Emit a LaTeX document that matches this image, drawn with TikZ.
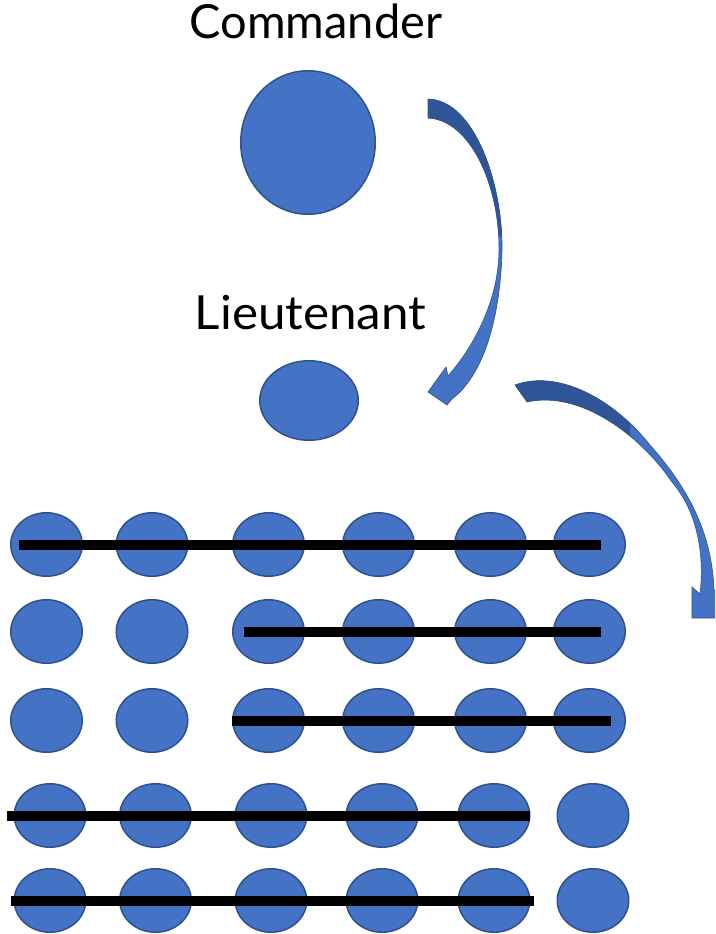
\documentclass[tikz,border=0pt]{standalone}
\usepackage{fontspec}
\setmainfont{Lato}
\usetikzlibrary{shapes.geometric}

\definecolor{soldier}{HTML}{4472C4}
\definecolor{rim}{HTML}{2F528F}
\definecolor{backside}{HTML}{2F5597}

% outlines of the two curved orders
\newcommand{\orderdown}{(428,99) .. controls (475,100) and (503,185) .. (502,250)
  .. controls (501,300) and (490,370) .. (452,399)
  -- (447,405) -- (428,392) -- (446,367) -- (448,376)
  .. controls (475,345) and (498,300) .. (499,252)
  .. controls (500,185) and (470,120) .. (428,118) -- cycle}
\newcommand{\orderout}{(515,385) .. controls (555,370) and (610,395) .. (650,445)
  .. controls (690,490) and (712,535) .. (714,590)
  -- (725,590) -- (725,618) -- (692,618) -- (692,587) -- (700,594)
  .. controls (704,560) and (700,515) .. (672,482)
  .. controls (640,435) and (580,390) .. (527,402) -- cycle}

\begin{document}
\begin{tikzpicture}[x=1pt, y=-1pt,
    man/.style = {draw=rim, fill=soldier, line width=1.5pt, ellipse, inner sep=0pt,
      minimum width=71.5pt, minimum height=63.5pt},
    lbl/.style = {font=\fontsize{47}{54}\selectfont, inner sep=0pt, anchor=base},
    bar/.style = {line width=10pt, black}]
    \useasboundingbox (0,0) rectangle (715,934);
    \clip (0,0) rectangle (715,934);

    \node[lbl] (cmdtxt) at (316,39) {Commander};
    \node[man, minimum width=134.5pt, minimum height=143.5pt] (cmd) at (308,142.5) {};
    \node[lbl, xscale=1.05] (lttxt) at (310.5,329) {Lieutenant};
    \node[man, minimum width=98.5pt, minimum height=79.5pt] (lt) at (309,400.5) {};

    % the troops
    \foreach \r/\y in {1/544.5, 2/631.5, 3/720.5}
      \foreach \c/\x in {1/46.5, 2/152, 3/268.5, 4/378.5, 5/490.5, 6/589.5}
        \node[man] (s\r\c) at (\x,\y) {};
    \foreach \r/\y in {4/815.5, 5/900.5}
      \foreach \c/\x in {1/50, 2/155.5, 3/271, 4/382, 5/494, 6/593}
        \node[man] (s\r\c) at (\x,\y) {};

    \draw[bar] ([xshift=-27.5pt]s11.center) -- ([xshift=11.5pt]s16.center);
    \draw[bar] ([xshift=-24.5pt]s23.center) -- ([xshift=11.5pt]s26.center);
    \draw[bar] ([xshift=-36.5pt]s33.center) -- ([xshift=21.5pt]s36.center);
    \draw[bar] ([xshift=-43pt]s41.center) -- ([xshift=36pt]s45.center);
    \draw[bar] ([xshift=-39pt]s51.center) -- ([xshift=40pt]s55.center);

    % curved arrows, dark where the back shows
    \fill[soldier] \orderdown;
    \begin{scope}
      \clip (0,0) rectangle (715,235);
      \fill[backside] \orderdown;
    \end{scope}
    \draw[rim, line width=0.6pt] \orderdown;

    \fill[soldier] \orderout;
    \begin{scope}
      \clip (0,0) rectangle (630,934);
      \fill[backside] \orderout;
    \end{scope}
    \draw[rim, line width=0.6pt] \orderout;
\end{tikzpicture}
\end{document}
